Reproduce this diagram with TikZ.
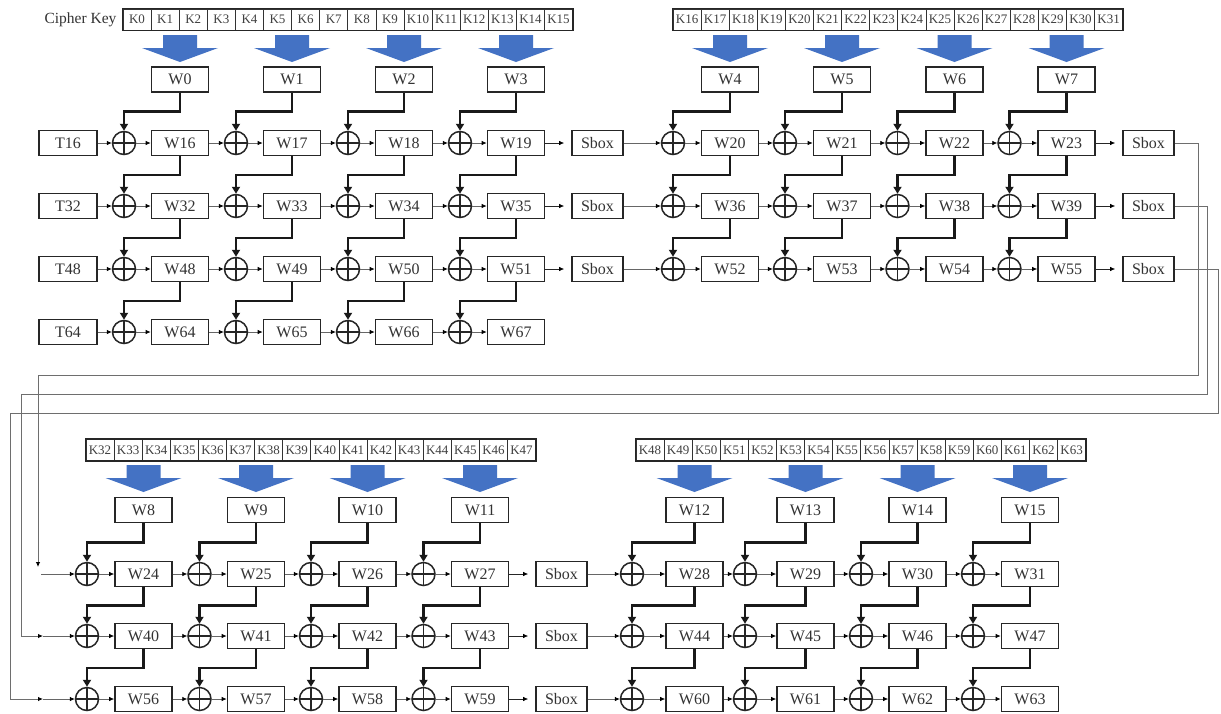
\documentclass[tikz,border=0pt]{standalone}
\usepackage{fontspec}
\setmainfont{Liberation Serif}
\usetikzlibrary{arrows.meta,calc}

\definecolor{keyblue}{HTML}{4472C4}
\definecolor{wire}{HTML}{6E6E6E}

\tikzset{
  wbox/.style={draw=black!85, line width=1.7pt, minimum width=57pt, minimum height=25pt,
    inner sep=0pt, font=\fontsize{16}{16}\selectfont, text=black!80},
  tbox/.style={wbox, minimum width=58pt},
  sboxnode/.style={wbox, minimum width=51pt},
  xr/.style={circle, draw=black!85, line width=1.5pt, minimum size=23pt, inner sep=0pt,
    path picture={\draw[line width=1.3pt, black!85]
      (path picture bounding box.north) -- (path picture bounding box.south)
      (path picture bounding box.west) -- (path picture bounding box.east);}},
  kcell/.style={draw=black!80, line width=0.8pt, minimum width=28.1pt, minimum height=21pt,
    inner sep=0pt, font=\fontsize{13}{13}\selectfont, text=black!75},
  kframe/.style={draw=black!85, line width=1.4pt},
  feed/.style={draw=black!90, line width=2.8pt, -{Triangle[length=7pt,width=8pt]}},
  flow/.style={draw=black!60, line width=0.7pt, -{Latex[length=5pt,width=4.5pt,color=black]}},
  sflow/.style={flow, draw=black!85, shorten >=7pt},
  route/.style={draw=wire, line width=0.9pt},
  routetip/.style={route, -{Latex[length=5pt,width=4.5pt,color=black]}},
  keyarrow/.pic={\fill[keyblue] (-17,0) -- (17,0) -- (17,13) -- (38,13) -- (0,27)
    -- (-38,13) -- (-17,13) -- cycle;}
}

\begin{document}
\begin{tikzpicture}[x=1pt,y=-1pt]
\useasboundingbox (0,0) rectangle (1221,713);
\fill[white] (0,0) rectangle (1221,713);

% ---- key bytes ----
\node[anchor=east, font=\fontsize{15.5}{16}\selectfont, text=black!80] (ck) at (120,19.5) {Cipher Key};
\foreach \blk/\kx/\ky in {0/123/19.5, 1/673/19.5, 2/86/450, 3/636/450} {
  \foreach \i in {0,...,15} {
    \pgfmathtruncatemacro\k{16*\blk+\i}
    \node[kcell] (k\k) at ({\kx+28.1*\i+14.05},\ky) {K\k};
  }
}
\draw[kframe] (k0.north west) rectangle (k15.south east);
\draw[kframe] (k16.north west) rectangle (k31.south east);
\draw[kframe] (k32.north west) rectangle (k47.south east);
\draw[kframe] (k48.north west) rectangle (k63.south east);

% ---- first expansion block (W0..W3, rows 16..64) ----
\foreach \c/\wx in {0/180,1/292,2/404,3/516} {
  \pic at (\wx,35) {keyarrow};
  \node[wbox] (w\c) at (\wx,79.5) {W\c};
  \foreach \r/\ry in {1/143,2/206,3/269,4/332} {
    \pgfmathtruncatemacro\n{16*\r+\c}
    \node[xr] (x\n) at ({\wx-56},\ry) {};
    \node[wbox] (w\n) at (\wx,\ry) {W\n};
  }
}
\foreach \r/\ry in {1/143,2/206,3/269,4/332} {
  \pgfmathtruncatemacro\n{16*\r}
  \node[tbox] (t\n) at (68,\ry) {T\n};
  \draw[flow] (t\n) -- (x\n);
}
\foreach \r/\ry in {1/143,2/206,3/269} {
  \node[sboxnode] (sa\r) at (597.5,\ry) {Sbox};
}

% ---- second block (W4..W7) ----
\foreach \c/\wx in {4/730,5/842,6/954.5,7/1066.5} {
  \pic at (\wx,35) {keyarrow};
  \node[wbox] (w\c) at (\wx,79.5) {W\c};
  \foreach \r/\ry in {1/143,2/206,3/269} {
    \pgfmathtruncatemacro\n{16*\r+\c}
    \node[xr] (x\n) at ({\wx-57},\ry) {};
    \node[wbox] (w\n) at (\wx,\ry) {W\n};
  }
}
\foreach \r/\ry in {1/143,2/206,3/269} {
  \node[sboxnode] (sb\r) at (1148.5,\ry) {Sbox};
}

% ---- third block (W8..W11) ----
\foreach \c/\wx in {8/143.5,9/256,10/367.5,11/480} {
  \pic at (\wx,465) {keyarrow};
  \node[wbox] (w\c) at (\wx,510) {W\c};
  \foreach \r/\ry in {1/574,2/636,3/699} {
    \pgfmathtruncatemacro\n{16*\r+\c}
    \node[xr] (x\n) at ({\wx-56.5},\ry) {};
    \node[wbox] (w\n) at (\wx,\ry) {W\n};
  }
}
\foreach \r/\ry in {1/574,2/636,3/699} {
  \node[sboxnode] (sc\r) at (561.5,\ry) {Sbox};
}

% ---- fourth block (W12..W15) ----
\foreach \c/\wx/\xx in {12/694.5/632,13/805.5/745,14/917.5/861,15/1030/973} {
  \pic at (\wx,465) {keyarrow};
  \node[wbox] (w\c) at (\wx,510) {W\c};
  \foreach \r/\ry in {1/574,2/636,3/699} {
    \pgfmathtruncatemacro\n{16*\r+\c}
    \node[xr] (x\n) at (\xx,\ry) {};
    \node[wbox] (w\n) at (\wx,\ry) {W\n};
  }
}

% ---- word feeds (thick) and row flows (thin) ----
\foreach \c in {0,...,15} {
  \pgfmathtruncatemacro\nr{\c<4 ? 4 : 3}
  \pgfmathtruncatemacro\last{mod(\c,4)==3 ? 1 : 0}
  \foreach \r in {1,...,\nr} {
    \pgfmathtruncatemacro\n{16*\r+\c}
    \pgfmathtruncatemacro\p{\r==1 ? \c : 16*(\r-1)+\c}
    \coordinate (m) at ($(w\p.south)!0.5!(x\n.north)$);
    \draw[feed] (w\p.south) |- (m -| x\n.north) -- (x\n.north);
    \draw[flow] (x\n) -- (w\n);
    \ifnum\last=0
      \pgfmathtruncatemacro\q{\n+1}
      \draw[flow] (w\n) -- (x\q);
    \fi
  }
}

% ---- S-box links ----
\foreach \r in {1,2,3} {
  \pgfmathtruncatemacro\a{16*\r+3}
  \pgfmathtruncatemacro\b{16*\r+4}
  \pgfmathtruncatemacro\cc{16*\r+7}
  \pgfmathtruncatemacro\d{16*\r+11}
  \pgfmathtruncatemacro\e{16*\r+12}
  \draw[sflow] (w\a) -- (sa\r);
  \draw[flow] (sa\r) -- (x\b);
  \draw[sflow] (w\cc) -- (sb\r);
  \draw[sflow] (w\d) -- (sc\r);
  \draw[flow] (sc\r) -- (x\e);
}

% ---- wrap-around routes from the second block to the third ----
\coordinate (ra) at (1198,375);
\coordinate (rb) at (1207,394);
\coordinate (rc) at (1218,413);
\coordinate (la) at (38,375);
\coordinate (lb) at (21,394);
\coordinate (lc) at (10,413);
\coordinate (ea) at (38,567);
\coordinate (ia) at (41,574);
\coordinate (eb) at (43,636);
\coordinate (ec) at (43,699);
\draw[routetip] (sb1.east) -| (ra) -- (la) -- (ea);
\draw[routetip] (sb2.east) -| (rb) -- (lb) |- (eb);
\draw[routetip] (sb3.east) -| (rc) -- (lc) |- (ec);
\draw[flow] (ia) -- (x24);
\draw[flow] (eb) -- (x40);
\draw[flow] (ec) -- (x56);
\end{tikzpicture}
\end{document}
